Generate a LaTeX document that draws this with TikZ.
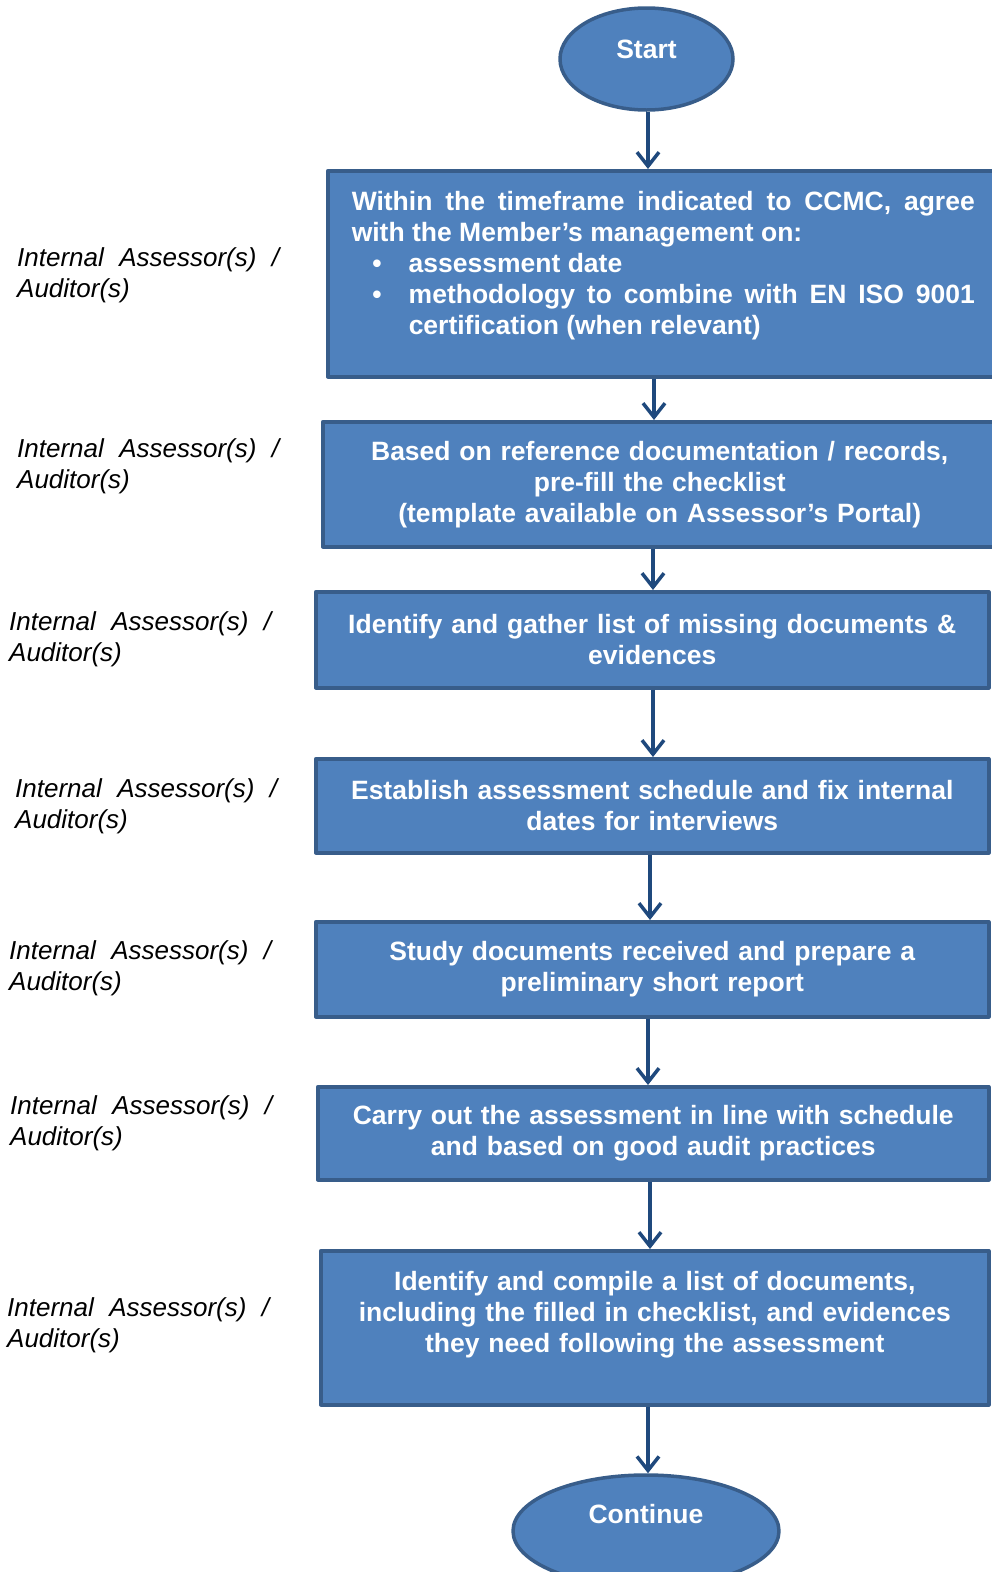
\documentclass[tikz,border=0pt]{standalone}
\usepackage{fontspec}
\setmainfont{Liberation Sans}
\usetikzlibrary{arrows.meta, shapes.geometric}
\definecolor{stepfill}{RGB}{79,129,189}
\definecolor{stepline}{RGB}{56,93,138}
\definecolor{flowline}{RGB}{31,73,125}
\begin{document}
\begin{tikzpicture}[x = 1pt, y = -1pt, line join = round,
        stepbox/.style = {draw = stepline, fill = stepfill, line width = 3.5pt, anchor = north west, inner sep = 0pt, text width = 630pt, align = center, text = white, font = \fontsize{26.5}{31}\selectfont\bfseries},
        terminal/.style = {ellipse, draw = stepline, fill = stepfill, line width = 3.5pt, inner sep = 0pt, text = white, font = \fontsize{26.5}{31}\selectfont\bfseries},
        role/.style = {anchor = north west, inner sep = 0pt, text width = 262pt, align = justify, font = \fontsize{26}{31}\selectfont\itshape},
        flow/.style = {draw = flowline, line width = 3.5pt, -{Straight Barb[length = 14pt, width = 22pt]}}]
        %
        \useasboundingbox (0, 0) rectangle (991, 1572);
        %
        \def\BulletGap{27pt}
        \def\ItemIndent{57pt}

        % terminals
        \node [terminal, minimum width = 173pt, minimum height = 102pt, text depth = 20pt] (start) at (646.5, 59) {Start};
        \node [terminal, minimum width = 266pt, minimum height = 112pt, text depth = 34pt] (continue) at (646, 1531) {Continue};

        % steps
        \node [stepbox, text width = 623pt, inner xsep = 24pt, minimum height = 206pt, align = justify] (box1) at (326, 169)
        {\parindent = 0pt Within the timeframe indicated to CCMC, agree\linebreak with the Member’s management on:\par
         \leftskip = \ItemIndent \leavevmode\llap{\textbullet\hspace{\BulletGap}}assessment date\par
         \leavevmode\llap{\textbullet\hspace{\BulletGap}}methodology to combine with EN ISO 9001\linebreak certification (when relevant)\par
         \vspace*{16pt}};
        \node [stepbox, minimum width = 674pt, minimum height = 125pt] (box2) at (321, 420)
        {Based on reference documentation / records,\\ pre-fill the checklist\\ (template available on Assessor’s Portal)};
        \node [stepbox, minimum width = 673pt, minimum height = 96pt] (box3) at (314, 590)
        {Identify and gather list of missing documents \&\\ evidences};
        \node [stepbox, minimum width = 673pt, minimum height = 94pt] (box4) at (314, 757)
        {Establish assessment schedule and fix internal\\ dates for interviews};
        \node [stepbox, minimum width = 673pt, minimum height = 95pt] (box5) at (314, 920)
        {Study documents received and prepare a\\ preliminary short report};
        \node [stepbox, minimum width = 671pt, minimum height = 93pt] (box6) at (316, 1085)
        {Carry out the assessment in line with schedule\\ and based on good audit practices};
        \node [stepbox, minimum width = 668pt, minimum height = 154pt] (box7) at (319, 1249)
        {Identify and compile a list of documents,\\ including the filled in checklist, and evidences\\ they need following the assessment\par
         \vspace*{27pt}};

        % roles
        \foreach \lx/\ly [count = \i] in {17/247, 17/438, 9/611, 15/778, 9/940, 10/1095, 7/1297}
        {
            \node [role] (role\i) at (\lx, \ly) {Internal Assessor(s) /\linebreak Auditor(s)};
        }

        % connectors
        \foreach \from/\to/\xpos [count = \i] in {start/box1/648, box1/box2/654, box2/box3/653, box3/box4/653, box4/box5/650, box5/box6/648, box6/box7/650, box7/continue/648}
        {
            \coordinate (spine\i) at (\xpos, 0);
            \draw [flow] (\from.south -| spine\i) -- (\to.north -| spine\i);
        }
    \end{tikzpicture}
\end{document}
